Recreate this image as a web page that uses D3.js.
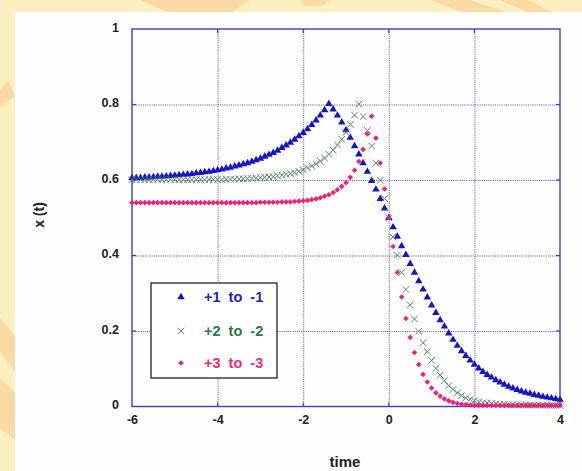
<!DOCTYPE html>
<html>
<head>
<meta charset="utf-8">
<script src="https://cdn.jsdelivr.net/npm/d3@7"></script>
<style>
  body { margin: 0; background: #fcefc0; }
  svg { display: block; font-family: "Liberation Sans", Arial, sans-serif; }
</style>
</head>
<body>
<svg id="chart" width="582" height="471"></svg>
<script>
// sampling grid of the curves: t = -6, -5.9, ... 4
const timeStart = -6;
const timeStep = 0.1;

const seriesNames = ['+1  to  -1', '+2  to  -2', '+3  to  -3'];

const blueValues = [
  0.605, 0.606, 0.606, 0.607, 0.607, 0.608, 0.609, 0.609, 0.610, 0.611,
  0.612, 0.613, 0.614, 0.615, 0.616, 0.618, 0.619, 0.621, 0.622, 0.624,
  0.626, 0.628, 0.631, 0.633, 0.636, 0.639, 0.642, 0.645, 0.649, 0.653,
  0.657, 0.662, 0.667, 0.672, 0.678, 0.685, 0.692, 0.699, 0.707, 0.716,
  0.725, 0.735, 0.746, 0.758, 0.771, 0.785, 0.802, 0.787, 0.771, 0.753,
  0.732, 0.712, 0.690, 0.668, 0.645, 0.622, 0.598, 0.575, 0.550, 0.525,
  0.500, 0.475, 0.450, 0.425, 0.402, 0.378, 0.355, 0.332, 0.310, 0.289,
  0.268, 0.248, 0.229, 0.212, 0.194, 0.177, 0.161, 0.147, 0.134, 0.122,
  0.111, 0.101, 0.092, 0.084, 0.077, 0.070, 0.064, 0.058, 0.053, 0.048,
  0.044, 0.040, 0.037, 0.034, 0.031, 0.029, 0.026, 0.024, 0.022, 0.020,
  0.018
];

const greenValues = [
  0.601, 0.601, 0.601, 0.601, 0.601, 0.601, 0.601, 0.601, 0.601, 0.601,
  0.601, 0.601, 0.601, 0.601, 0.601, 0.601, 0.601, 0.601, 0.601, 0.601,
  0.601, 0.601, 0.602, 0.602, 0.602, 0.603, 0.603, 0.604, 0.604, 0.605,
  0.606, 0.607, 0.608, 0.609, 0.611, 0.613, 0.615, 0.617, 0.620, 0.623,
  0.627, 0.632, 0.637, 0.643, 0.650, 0.658, 0.668, 0.679, 0.693, 0.708,
  0.726, 0.747, 0.772, 0.801, 0.768, 0.731, 0.690, 0.645, 0.599, 0.551,
  0.500, 0.449, 0.401, 0.355, 0.310, 0.269, 0.232, 0.199, 0.169, 0.145,
  0.122, 0.101, 0.083, 0.068, 0.055, 0.045, 0.036, 0.029, 0.023, 0.019,
  0.015, 0.012, 0.010, 0.009, 0.008, 0.007, 0.006, 0.006, 0.005, 0.005,
  0.005, 0.004, 0.004, 0.004, 0.004, 0.004, 0.003, 0.003, 0.003, 0.003,
  0.003
];

const pinkValues = [
  0.540, 0.540, 0.540, 0.540, 0.540, 0.540, 0.540, 0.540, 0.540, 0.540,
  0.540, 0.540, 0.540, 0.540, 0.540, 0.540, 0.540, 0.540, 0.540, 0.540,
  0.540, 0.540, 0.540, 0.540, 0.540, 0.540, 0.540, 0.540, 0.540, 0.540,
  0.541, 0.541, 0.541, 0.541, 0.541, 0.542, 0.542, 0.542, 0.543, 0.544,
  0.545, 0.546, 0.548, 0.550, 0.553, 0.557, 0.561, 0.567, 0.574, 0.583,
  0.593, 0.607, 0.626, 0.649, 0.681, 0.722, 0.769, 0.711, 0.645, 0.576,
  0.500, 0.424, 0.355, 0.290, 0.233, 0.183, 0.143, 0.111, 0.085, 0.065,
  0.049, 0.036, 0.027, 0.020, 0.015, 0.011, 0.008, 0.006, 0.005, 0.004,
  0.003, 0.003, 0.003, 0.003, 0.003, 0.003, 0.003, 0.003, 0.003, 0.003,
  0.003, 0.003, 0.003, 0.003, 0.003, 0.003, 0.003, 0.003, 0.003, 0.003,
  0.003
];

const xTicks = [-6, -4, -2, 0, 2, 4];
const xTickLabels = ['-6', '-4', '-2', '0', '2', '4'];
const yTicks = [0, 0.2, 0.4, 0.6, 0.8, 1];
const yTickLabels = ['0', '0.2', '0.4', '0.6', '0.8', '1'];

const width = 582;
const height = 471;
const plot = { left: 132, right: 560, top: 29, bottom: 406.5 };

const svg = d3.select('#chart');

// ---- background (yellow paper with orange brush strokes) ----
svg.append('rect').attr('width', width).attr('height', height).attr('fill', '#fcefc0');
const swirls = [
  [[140, 0], [250, 0], [232, 12], [168, 12]],
  [[300, 0], [330, 0], [322, 6], [305, 6]],
  [[430, 0], [470, 0], [505, 12], [462, 12]],
  [[500, 0], [528, 0], [552, 12], [528, 12]],
  [[0, 318], [15, 336], [15, 372], [0, 352]],
  [[0, 378], [15, 392], [15, 440], [0, 428]],
  [[0, 90], [8, 80], [15, 96], [0, 108]]
];
svg.append('g')
  .selectAll('polygon')
  .data(swirls)
  .join('polygon')
  .attr('points', d => d.map(p => p.join(',')).join(' '))
  .attr('fill', '#f7d69c')
  .attr('opacity', 0.85);

// white panel
svg.append('rect')
  .attr('x', 15).attr('y', 12)
  .attr('width', width - 15).attr('height', height - 12)
  .attr('fill', '#fefefe');

// ---- scales ----
const xScale = d3.scaleLinear().domain([-6, 4]).range([plot.left, plot.right]);
const yScale = d3.scaleLinear().domain([0, 1]).range([plot.bottom, plot.top]);
const plotW = plot.right - plot.left;
const plotH = plot.bottom - plot.top;

// gridlines
const gridX = svg.append('g')
  .attr('transform', `translate(0, ${plot.bottom})`)
  .call(d3.axisBottom(xScale).tickValues(xTicks.slice(1, -1)).tickSize(-plotH).tickFormat(''));
const gridY = svg.append('g')
  .attr('transform', `translate(${plot.left}, 0)`)
  .call(d3.axisLeft(yScale).tickValues(yTicks.slice(1, -1)).tickSize(-plotW).tickFormat(''));
[gridX, gridY].forEach(g => {
  g.select('.domain').remove();
  g.selectAll('line')
    .attr('stroke', '#4b4bd6')
    .attr('stroke-width', 1)
    .attr('stroke-dasharray', '1,1.2');
});

// small solid ticks on all four sides
const tickLen = 4;
const ticks = svg.append('g').attr('stroke', '#3a3acc').attr('stroke-width', 1.2);
xTicks.slice(1, -1).forEach(t => {
  ticks.append('line').attr('x1', xScale(t)).attr('x2', xScale(t))
    .attr('y1', plot.bottom).attr('y2', plot.bottom - tickLen);
  ticks.append('line').attr('x1', xScale(t)).attr('x2', xScale(t))
    .attr('y1', plot.top).attr('y2', plot.top + tickLen);
});
yTicks.slice(1, -1).forEach(v => {
  ticks.append('line').attr('x1', plot.left).attr('x2', plot.left + tickLen)
    .attr('y1', yScale(v)).attr('y2', yScale(v));
  ticks.append('line').attr('x1', plot.right).attr('x2', plot.right - tickLen)
    .attr('y1', yScale(v)).attr('y2', yScale(v));
});

// frame
svg.append('rect')
  .attr('x', plot.left).attr('y', plot.top)
  .attr('width', plotW).attr('height', plotH)
  .attr('fill', 'none')
  .attr('stroke', '#3c3cd0')
  .attr('stroke-width', 1.4);

// axis labels
const xAxis = svg.append('g')
  .attr('transform', `translate(0, ${plot.bottom})`)
  .call(d3.axisBottom(xScale).tickValues(xTicks).tickSize(0).tickPadding(9)
    .tickFormat((d, i) => xTickLabels[i]));
const yAxis = svg.append('g')
  .attr('transform', `translate(${plot.left}, -2)`)
  .call(d3.axisLeft(yScale).tickValues(yTicks).tickSize(0).tickPadding(13)
    .tickFormat((d, i) => yTickLabels[i]));
[xAxis, yAxis].forEach(g => {
  g.select('.domain').remove();
  g.selectAll('text')
    .attr('fill', '#222')
    .style('font-size', '12.5px')
    .style('font-weight', 'bold')
    .style('font-family', '"Liberation Sans", Arial, sans-serif');
});

svg.append('text')
  .attr('x', 345).attr('y', 467)
  .attr('text-anchor', 'middle')
  .attr('fill', '#222')
  .style('font-size', '15px').style('font-weight', 'bold')
  .text('time');

svg.append('text')
  .attr('transform', 'translate(44, 215) rotate(-90)')
  .attr('text-anchor', 'middle')
  .attr('fill', '#222')
  .style('font-size', '14px').style('font-weight', 'bold')
  .style('white-space', 'pre')
  .text('x (t)');

// ---- markers ----
const tri = d3.symbol(d3.symbolTriangle, 24);
const cross = d3.symbol(d3.symbolTimes || d3.symbolX || d3.symbolCross, 30);
const diamond = d3.symbol(d3.symbolDiamond2 || d3.symbolDiamond, 20);

const series = [
  { name: seriesNames[0], values: blueValues, path: tri(), fill: '#1414c8', stroke: 'none', text: '#2323cc' },
  { name: seriesNames[1], values: greenValues, path: cross(), fill: 'none', stroke: '#4f8a5e', text: '#2e7a42' },
  { name: seriesNames[2], values: pinkValues, path: diamond(), fill: '#ee2275', stroke: 'none', text: '#ee2a78' }
];

series.forEach(s => {
  svg.append('g')
    .selectAll('path')
    .data(s.values)
    .join('path')
    .attr('transform', (d, i) => `translate(${xScale(timeStart + i * timeStep)}, ${yScale(d)})`)
    .attr('d', s.path)
    .attr('fill', s.fill)
    .attr('stroke', s.stroke)
    .attr('stroke-width', 1);
});

// ---- legend ----
const legend = svg.append('g').attr('transform', 'translate(151, 283)');
legend.append('rect')
  .attr('width', 126).attr('height', 95)
  .attr('fill', '#fff')
  .attr('stroke', '#222')
  .attr('stroke-width', 1.3);

const rowY = [14, 48, 80];
series.forEach((s, i) => {
  legend.append('path')
    .attr('transform', `translate(30, ${rowY[i]})`)
    .attr('d', s.path)
    .attr('fill', s.fill)
    .attr('stroke', i === 1 ? '#8a8a8a' : s.stroke);
  legend.append('text')
    .attr('x', 53).attr('y', rowY[i] + 5)
    .attr('fill', s.text)
    .style('font-size', '14.5px').style('font-weight', 'bold')
    .style('white-space', 'pre')
    .text(s.name);
});
</script>
</body>
</html>
